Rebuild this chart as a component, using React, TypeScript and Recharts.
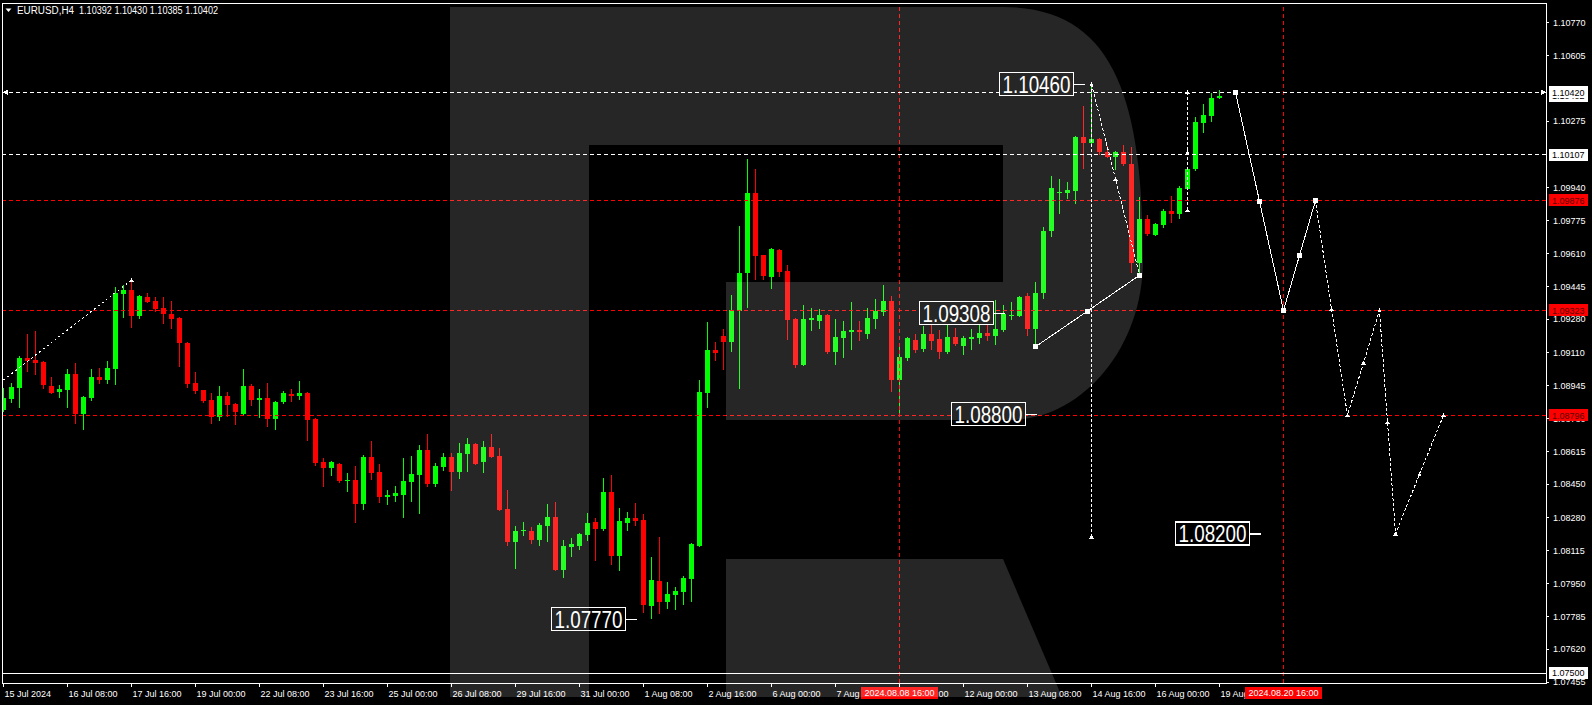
import React from "react";
import { Bar, ComposedChart, Line, ReferenceDot, ReferenceLine, XAxis, YAxis } from "recharts";

const FONT = "'Liberation Sans', Arial, sans-serif";
const GREEN = "#00ff00";
const RED = "#ff0000";
const WHITE = "#ffffff";

// bar index domain (bar i sits at 3.5 + 8i px), price domain of the plot
const X_MIN = -0.1875;
const X_MAX = 192.8125;
const Y_MIN = 1.0745;
const Y_MAX = 1.10869;

// EURUSD H4, 15 Jul 2024 00:00 .. 19 Aug 2024 08:00
const opens = [
  1.08823, 1.08878, 1.08935, 1.09084, 1.09074, 1.09064, 1.08943, 1.08914, 1.08925, 1.09004,
  1.08802, 1.08884, 1.08988, 1.08975, 1.0903, 1.09407, 1.09426, 1.09297, 1.09391, 1.0937,
  1.09335, 1.09305, 1.09285, 1.09159, 1.08958, 1.08923, 1.08873, 1.08789, 1.08893, 1.08853,
  1.08802, 1.08943, 1.08873, 1.08883, 1.08777, 1.08863, 1.08903, 1.08893, 1.08908, 1.08777,
  1.08561, 1.08531, 1.08551, 1.08466, 1.08471, 1.0835, 1.08586, 1.08511, 1.08385, 1.0839,
  1.08395, 1.08461, 1.08496, 1.08621, 1.0845, 1.08536, 1.08586, 1.08511, 1.08601, 1.08652,
  1.08561, 1.08637, 1.08591, 1.08325, 1.08159, 1.08214, 1.08214, 1.08169, 1.08239, 1.08285,
  1.08018, 1.08134, 1.08139, 1.08194, 1.08259, 1.08224, 1.0841, 1.08088, 1.08254, 1.0828,
  1.08269, 1.07837, 1.07963, 1.07857, 1.07892, 1.07908, 1.07973, 1.08139, 1.08909, 1.09124,
  1.09195, 1.09166, 1.09322, 1.0951, 1.09915, 1.096, 1.09493, 1.09627, 1.09521, 1.0928,
  1.09049, 1.09275, 1.09272, 1.093, 1.09116, 1.09186, 1.09215, 1.09225, 1.09206, 1.09282,
  1.09317, 1.0937, 1.08975, 1.09084, 1.09175, 1.09129, 1.09205, 1.0918, 1.09116, 1.0919,
  1.09146, 1.0918, 1.09185, 1.0921, 1.09196, 1.09225, 1.09295, 1.09295, 1.09396, 1.09231,
  1.09409, 1.09723, 1.09914, 1.09914, 1.09924, 1.10195, 1.10167, 1.10185, 1.1012, 1.10096,
  1.1012, 1.10059, 1.09563, 1.09783, 1.09704, 1.09754, 1.09823, 1.09809, 1.09935, 1.10034,
  1.10266, 1.10302, 1.10392,
];
const highs = [
  1.08935, 1.08958, 1.09093, 1.09205, 1.09221, 1.0907, 1.08988, 1.08948, 1.09029, 1.09059,
  1.08893, 1.09029, 1.09034, 1.09069, 1.09441, 1.09451, 1.09476, 1.09401, 1.09411, 1.09391,
  1.09391, 1.0937, 1.0929, 1.09166, 1.09014, 1.08925, 1.08908, 1.08943, 1.08913, 1.08858,
  1.09029, 1.08953, 1.08928, 1.08958, 1.08868, 1.08918, 1.08928, 1.08968, 1.08913, 1.08782,
  1.08581, 1.08566, 1.08556, 1.08506, 1.08541, 1.08596, 1.08667, 1.08551, 1.0842, 1.0844,
  1.08581, 1.08591, 1.08647, 1.08702, 1.08556, 1.08606, 1.08606, 1.08657, 1.08682, 1.08657,
  1.08667, 1.08702, 1.08631, 1.0842, 1.08239, 1.08259, 1.08234, 1.08254, 1.0835, 1.0836,
  1.08169, 1.08179, 1.08204, 1.08305, 1.0828, 1.08481, 1.08496, 1.0833, 1.0831, 1.08355,
  1.083, 1.08083, 1.08184, 1.07958, 1.07933, 1.07988, 1.08154, 1.08973, 1.09265, 1.09164,
  1.0923, 1.09401, 1.09748, 1.10085, 1.10034, 1.09602, 1.09636, 1.09631, 1.09552, 1.09285,
  1.09352, 1.09335, 1.0933, 1.09305, 1.0928, 1.0927, 1.09366, 1.0927, 1.09335, 1.09381,
  1.09451, 1.09397, 1.09139, 1.0919, 1.09205, 1.09245, 1.09295, 1.09225, 1.09275, 1.09235,
  1.09195, 1.0923, 1.09275, 1.09275, 1.09376, 1.0935, 1.09366, 1.09396, 1.09411, 1.09466,
  1.09743, 1.09999, 1.09984, 1.09969, 1.102, 1.10351, 1.1046, 1.1019, 1.10151, 1.10126,
  1.10156, 1.10145, 1.09895, 1.09803, 1.09763, 1.09833, 1.09899, 1.09949, 1.10046, 1.10296,
  1.10361, 1.10416, 1.1043,
];
const lows = [
  1.08814, 1.08859, 1.08834, 1.09015, 1.08999, 1.0893, 1.08905, 1.08884, 1.08834, 1.08754,
  1.08722, 1.08869, 1.08955, 1.08955, 1.0895, 1.09287, 1.09236, 1.09282, 1.09362, 1.09317,
  1.09256, 1.09231, 1.0904, 1.08935, 1.08905, 1.08859, 1.08754, 1.08769, 1.08789, 1.08747,
  1.08797, 1.08843, 1.08782, 1.08737, 1.08722, 1.08853, 1.08863, 1.08873, 1.08667, 1.08541,
  1.08435, 1.08491, 1.08455, 1.0841, 1.08254, 1.0832, 1.08471, 1.08355, 1.08345, 1.0836,
  1.0828, 1.0836, 1.083, 1.08435, 1.08435, 1.08516, 1.08415, 1.08476, 1.08511, 1.08546,
  1.08506, 1.08581, 1.08315, 1.08139, 1.08023, 1.08189, 1.08149, 1.08139, 1.08159, 1.08013,
  1.07978, 1.08083, 1.08119, 1.08164, 1.08063, 1.08214, 1.08043, 1.08013, 1.08214, 1.08239,
  1.07802, 1.0777, 1.07797, 1.07822, 1.07817, 1.07842, 1.07857, 1.08134, 1.08834, 1.0907,
  1.09025, 1.09116, 1.08927, 1.09334, 1.09478, 1.09478, 1.09432, 1.09493, 1.09176, 1.09035,
  1.09044, 1.09221, 1.09231, 1.09106, 1.0905, 1.09086, 1.09124, 1.09171, 1.09181, 1.09231,
  1.09297, 1.08914, 1.088, 1.0907, 1.09111, 1.09116, 1.09124, 1.09081, 1.09106, 1.09146,
  1.09101, 1.09126, 1.09156, 1.09171, 1.09151, 1.09216, 1.09275, 1.0929, 1.09195, 1.09141,
  1.09379, 1.09694, 1.09809, 1.09883, 1.0986, 1.10036, 1.10155, 1.10106, 1.10091, 1.10031,
  1.10051, 1.09513, 1.095, 1.09699, 1.09699, 1.09739, 1.09764, 1.09784, 1.09929, 1.10026,
  1.10215, 1.10272, 1.10385,
];
const closes = [
  1.08884, 1.08938, 1.09084, 1.0907, 1.09059, 1.08948, 1.08909, 1.08928, 1.09004, 1.08802,
  1.08888, 1.08988, 1.08975, 1.09034, 1.09411, 1.09426, 1.09297, 1.09396, 1.09367, 1.0933,
  1.09307, 1.0928, 1.09161, 1.08955, 1.0892, 1.08869, 1.08789, 1.08893, 1.08849, 1.08812,
  1.08943, 1.08873, 1.08883, 1.08777, 1.08863, 1.08908, 1.08893, 1.08908, 1.08772, 1.08556,
  1.08531, 1.08561, 1.08466, 1.08471, 1.0835, 1.08586, 1.08506, 1.08385, 1.08395, 1.08405,
  1.08466, 1.08501, 1.08621, 1.0845, 1.08541, 1.08586, 1.08511, 1.08606, 1.08652, 1.08551,
  1.08637, 1.08586, 1.0832, 1.08159, 1.08214, 1.08219, 1.08169, 1.08244, 1.08285, 1.08018,
  1.08139, 1.08149, 1.08199, 1.08254, 1.08224, 1.0841, 1.08088, 1.08264, 1.0828, 1.08264,
  1.07842, 1.07968, 1.07857, 1.07897, 1.07913, 1.07978, 1.08149, 1.08913, 1.09124, 1.09108,
  1.09166, 1.09325, 1.0951, 1.09915, 1.09598, 1.09498, 1.09631, 1.09518, 1.09277, 1.09049,
  1.0928, 1.09285, 1.093, 1.09116, 1.0919, 1.0922, 1.09225, 1.09215, 1.09285, 1.0932,
  1.0937, 1.08975, 1.09089, 1.09185, 1.09124, 1.09205, 1.09169, 1.09116, 1.0919, 1.09156,
  1.09185, 1.0919, 1.0921, 1.09196, 1.0923, 1.09305, 1.093, 1.09391, 1.09231, 1.09411,
  1.09723, 1.09939, 1.09919, 1.09929, 1.10195, 1.10167, 1.10185, 1.10121, 1.10096, 1.1012,
  1.10061, 1.09563, 1.09783, 1.09709, 1.09758, 1.09823, 1.09809, 1.09939, 1.10034, 1.10271,
  1.10306, 1.10392, 1.10402,
];

const timeTicks = [0, 8, 16, 24, 32, 40, 48, 56, 64, 72, 80, 88, 96, 104, 112, 120, 128, 136, 144, 152];
const timeLabels = [
  "15 Jul 2024", "16 Jul 08:00", "17 Jul 16:00", "19 Jul 00:00", "22 Jul 08:00", "23 Jul 16:00",
  "25 Jul 00:00", "26 Jul 08:00", "29 Jul 16:00", "31 Jul 00:00", "1 Aug 08:00", "2 Aug 16:00",
  "6 Aug 00:00", "7 Aug 08:00", "8 Aug 16:00", "12 Aug 00:00", "13 Aug 08:00", "14 Aug 16:00",
  "16 Aug 00:00", "19 Aug 08:00",
];
// grid prices; 1.10440 and 1.10110 sit fully under the level tags
const priceTicks = [
  1.1077, 1.10605, 1.10275, 1.0994, 1.09775, 1.0961, 1.09445, 1.0928, 1.0911,
  1.08945, 1.0878, 1.08615, 1.0845, 1.0828, 1.08115, 1.0795, 1.07785, 1.0762, 1.07455,
];

// horizontal levels
const whiteLevels = [1.1042, 1.10107];
const redLevels = [1.09876, 1.09323, 1.08796];
const redTimes = [112, 160];
const redTimeTags = ["2024.08.08 16:00", "2024.08.20 16:00"];

// drawn paths (bar index, price)
const pathLeft = [{ i: 0, v: 1.08973 }, { i: 16, v: 1.09476 }];
const pathRise = [{ i: 129, v: 1.09141 }, { i: 135.5, v: 1.0932 }, { i: 142, v: 1.095 }];
const pathDrop = [{ i: 136, v: 1.1046 }, { i: 139, v: 1.09984 }, { i: 142, v: 1.095 }];
const pathSpan = [{ i: 136, v: 1.1046 }, { i: 136, v: 1.08185 }];
const pathStep = [{ i: 148, v: 1.09828 }, { i: 148, v: 1.10118 }, { i: 148, v: 1.1042 }];
const forecastSolid = [
  { i: 154, v: 1.1042 }, { i: 157, v: 1.09872 }, { i: 160, v: 1.09323 }, { i: 162, v: 1.096 }, { i: 164, v: 1.09876 },
];
const forecastDotted = [
  { i: 164, v: 1.09876 }, { i: 166, v: 1.0933 }, { i: 168, v: 1.08796 }, { i: 170, v: 1.0906 },
  { i: 172, v: 1.09323 }, { i: 173, v: 1.08762 }, { i: 174, v: 1.082 }, { i: 177, v: 1.08499 },
  { i: 180, v: 1.08796 },
];

const bigTags = [
  { text: "1.10460", i: 136, v: 1.1046 },
  { text: "1.09308", i: 126, v: 1.09308 },
  { text: "1.08800", i: 130, v: 1.088 },
  { text: "1.07770", i: 80, v: 1.0777 },
  { text: "1.08200", i: 158, v: 1.082 },
];
const tagPrices = [1.10402, 1.1042, 1.10107, 1.09876, 1.09323, 1.08796, 1.075];
const tagRed = [false, false, false, true, true, true, false];

// tags go last so they are painted over the plain tick labels
const yTicks = [...priceTicks, ...tagPrices];
const xTicks = [...timeTicks, ...redTimes];

const candles = opens.map((o, i) => ({ i, o, h: highs[i], l: lows[i], c: closes[i] }));

function Candle(props: any) {
  const d = props.payload || props;
  let { x, y, width, height } = props;
  if (height < 0) {
    y += height;
    height = -height;
  }
  const cx = x + width / 2;
  const k = d.h > d.l ? height / (d.h - d.l) : 0;
  const yO = y + (d.h - d.o) * k;
  const yC = y + (d.h - d.c) * k;
  const top = Math.round(Math.min(yO, yC));
  const bot = Math.max(top + 1, Math.round(Math.max(yO, yC)));
  const wt = Math.round(y);
  const wb = Math.max(wt + 1, Math.round(y + height));
  const col = d.c >= d.o ? GREEN : RED;
  return (
    <g>
      <rect x={cx - 0.5} y={wt} width={1} height={wb - wt} fill={col} />
      <rect x={cx - 2.5} y={top} width={5} height={bot - top} fill={col} />
    </g>
  );
}

function TimeTick(props: any) {
  const { x, y, index } = props;
  if (index >= timeTicks.length) {
    const k = index - timeTicks.length;
    return (
      <g>
        <rect x={x - 38.5} y={y + 4} width={77} height={12} fill={RED} />
        <text x={x} y={y + 13.3} fill={WHITE} fontSize={9} fontFamily={FONT} textAnchor="middle">
          {redTimeTags[k]}
        </text>
      </g>
    );
  }
  return (
    <g>
      <line x1={x} x2={x} y1={y} y2={y + 4} stroke={WHITE} />
      <text x={x + 1} y={y + 14} fill={WHITE} fontSize={9} fontFamily={FONT}>
        {timeLabels[index]}
      </text>
    </g>
  );
}

function PriceTick(props: any) {
  const { x, y, payload, index } = props;
  if (index >= priceTicks.length) {
    const red = tagRed[index - priceTicks.length];
    return (
      <g>
        <rect x={x + 3} y={y - 6} width={39} height={12} fill={red ? RED : WHITE} />
        <text x={x + 6} y={y + 3.3} fill={red ? "#5a0000" : "#000"} fontSize={9} fontFamily={FONT}>
          {payload.value.toFixed(5)}
        </text>
      </g>
    );
  }
  return (
    <g>
      <line x1={x} x2={x + 3} y1={y} y2={y} stroke={WHITE} />
      <text x={x + 7} y={y + 3.3} fill={WHITE} fontSize={9} fontFamily={FONT}>
        {payload.value.toFixed(5)}
      </text>
    </g>
  );
}

const square = (props: any) => (
  <rect key={props.index} x={props.cx - 2.5} y={props.cy - 2.5} width={5} height={5} fill={WHITE} />
);
const arrow = (props: any) => (
  <path
    key={props.index}
    d={`M${props.cx - 2.5},${props.cy + 2} L${props.cx},${props.cy - 2} L${props.cx + 2.5},${props.cy + 2} Z`}
    fill={WHITE}
  />
);
const lastArrow = (props: any) =>
  props.index === pathLeft.length - 1 ? arrow(props) : <g key={props.index} />;

function BigTag(props: any) {
  const { cx, cy, text } = props;
  const left = cx - 92;
  return (
    <g>
      <rect x={left} y={cy - 12} width={74} height={23} fill="#000" stroke={WHITE} strokeWidth={1.5} />
      <line x1={cx - 18} x2={cx - 7} y1={cy} y2={cy} stroke={WHITE} strokeWidth={1.5} />
      <text
        x={left + 3}
        y={cy + 8.5}
        fill={WHITE}
        fontSize={24}
        fontFamily={FONT}
        textLength={68}
        lengthAdjust="spacingAndGlyphs"
      >
        {text}
      </text>
    </g>
  );
}

function EndMark(props: any) {
  const { cx, cy, dir } = props;
  const tip = cx + dir * 1;
  const back = cx - dir * 4;
  return <path d={`M${back},${cy - 2.5} L${tip},${cy} L${back},${cy + 2.5} Z`} fill={WHITE} />;
}

export default function App() {
  return (
    <div style={{ position: "fixed", left: 0, top: 0, width: 1592, height: 705, background: "#000" }}>
      <ComposedChart
        width={1592}
        height={705}
        data={candles}
        margin={{ top: 3, right: 0, bottom: 0, left: 2 }}
        style={{ shapeRendering: "crispEdges" }}
      >
        <XAxis
          dataKey="i"
          type="number"
          domain={[X_MIN, X_MAX]}
          allowDataOverflow
          ticks={xTicks}
          interval={0}
          height={22}
          axisLine={false}
          tickLine={false}
          tickSize={0}
          tickMargin={0}
          tick={(p: any) => <TimeTick {...p} />}
        />
        <YAxis
          orientation="right"
          type="number"
          domain={[Y_MIN, Y_MAX]}
          allowDataOverflow
          ticks={yTicks}
          interval={0}
          width={46}
          axisLine={false}
          tickLine={false}
          tickSize={0}
          tickMargin={0}
          tick={(p: any) => <PriceTick {...p} />}
        />
        {redTimes.map((t) => (
          <ReferenceLine key={`rt${t}`} x={t} stroke={RED} strokeDasharray="4 3" />
        ))}
        {redLevels.map((v) => (
          <ReferenceLine key={`rl${v}`} y={v} stroke={RED} strokeDasharray="4 3" />
        ))}
        {whiteLevels.map((v) => (
          <ReferenceLine key={`wl${v}`} y={v} stroke={WHITE} strokeDasharray="4 3" />
        ))}
        <ReferenceLine y={1.075} stroke={WHITE} />
        <Bar dataKey={(d: any) => [d.l, d.h]} barSize={5} shape={(p: any) => <Candle {...p} />} isAnimationActive={false} />
        <Line data={pathLeft} dataKey="v" stroke={WHITE} strokeDasharray="2 3" dot={lastArrow} activeDot={false} isAnimationActive={false} />
        <Line data={pathRise} dataKey="v" stroke={WHITE} dot={square} activeDot={false} isAnimationActive={false} />
        <Line data={pathDrop} dataKey="v" stroke={WHITE} strokeDasharray="3 2" dot={arrow} activeDot={false} isAnimationActive={false} />
        <Line data={pathSpan} dataKey="v" stroke={WHITE} strokeDasharray="3 2" dot={arrow} activeDot={false} isAnimationActive={false} />
        <Line data={pathStep} dataKey="v" stroke={WHITE} strokeDasharray="3 2" dot={arrow} activeDot={false} isAnimationActive={false} />
        <Line data={forecastSolid} dataKey="v" stroke={WHITE} dot={square} activeDot={false} isAnimationActive={false} />
        <Line data={forecastDotted} dataKey="v" stroke={WHITE} strokeDasharray="3 2" dot={arrow} activeDot={false} isAnimationActive={false} />
        <ReferenceDot x={X_MIN + 0.2} y={1.1042} r={0} ifOverflow="visible" shape={(p: any) => <EndMark {...p} dir={-1} />} />
        <ReferenceDot x={X_MAX - 0.1} y={1.1042} r={0} ifOverflow="visible" shape={(p: any) => <EndMark {...p} dir={1} />} />
        {bigTags.map((t) => (
          <ReferenceDot key={t.text} x={t.i} y={t.v} r={0} ifOverflow="visible" shape={(p: any) => <BigTag {...p} text={t.text} />} />
        ))}
      </ComposedChart>
      <svg width={1592} height={705} style={{ position: "absolute", left: 0, top: 0, pointerEvents: "none" }}>
        <rect x={2.5} y={3.5} width={1544} height={680} fill="none" stroke={WHITE} shapeRendering="crispEdges" />
        <path d="M5.5,8.5 L11.5,8.5 L8.5,12 Z" fill={WHITE} />
        <text x={17} y={13.5} fill={WHITE} fontSize={10} fontFamily={FONT} textLength={57} lengthAdjust="spacingAndGlyphs">
          EURUSD,H4
        </text>
        <text x={79} y={13.5} fill={WHITE} fontSize={10} fontFamily={FONT} textLength={139} lengthAdjust="spacingAndGlyphs">
          1.10392 1.10430 1.10385 1.10402
        </text>
        <g fill="rgba(255,255,255,0.15)">
          <rect x={450} y={7} width={139} height={690} />
          <path d="M589,7 H1003 C1115,7 1143,100 1143,260 C1143,350 1080,420 1010,420 H726 V282 H1003 V145 H589 Z" />
          <path d="M726,559 H1003 L1062,697 H726 Z" />
        </g>
      </svg>
    </div>
  );
}
